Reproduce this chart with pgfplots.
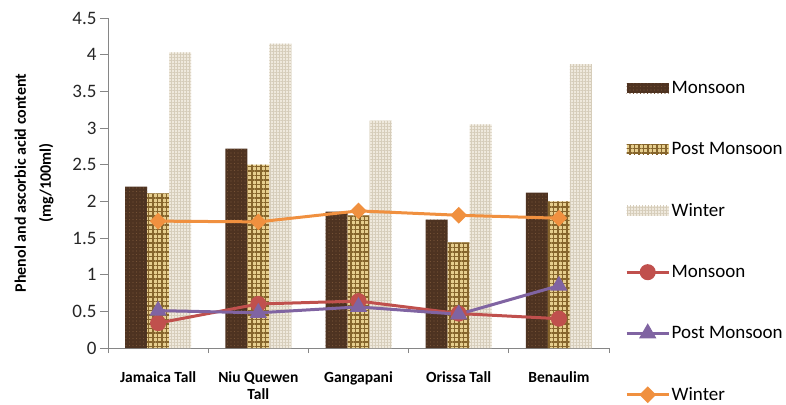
\documentclass[border=0pt]{standalone}
\usepackage{fontspec}
\setmainfont{Carlito}
\usepackage{pgfplots}
\pgfplotsset{compat=1.18}
\usetikzlibrary{patterns.meta}

\definecolor{axisgray}{HTML}{868686}
\definecolor{mbar}{HTML}{4E3321}
\definecolor{mbarlight}{HTML}{765237}
\definecolor{pbar}{HTML}{E6CE8E}
\definecolor{pbardark}{HTML}{86652C}
\definecolor{wbar}{HTML}{EFE9DD}
\definecolor{wbardark}{HTML}{D6CDBA}
\definecolor{mline}{HTML}{C0504D}
\definecolor{pline}{HTML}{8064A2}
\definecolor{wline}{HTML}{F0903F}

\pgfplotsset{
  barlegend/.style={legend image code/.code={%
      \path[##1,draw=none] (0bp,-5bp) rectangle (42bp,5bp);}},
  linelegend/.style={legend image code/.code={%
      \draw[##1,mark repeat=2,mark phase=2]
        plot coordinates {(0bp,0bp) (21bp,0bp) (42bp,0bp)};}},
}

\begin{document}
\begin{tikzpicture}
\useasboundingbox (-108bp,-57bp) rectangle (678bp,348bp);
\begin{axis}[
  at={(0,0)}, anchor=south west,
  scale only axis, width=501bp, height=330bp,
  xmin=-0.5, xmax=4.5, ymin=0, ymax=4.5,
  axis x line*=bottom, axis y line*=left,
  axis line style={draw=axisgray, line width=0.8bp},
  tick align=outside,
  xtick={0,1,2,3,4},
  xticklabels={Jamaica Tall,{Niu Quewen\\Tall},Gangapani,Orissa Tall,Benaulim},
  major x tick style={draw=none},
  minor xtick={-0.5,0.5,1.5,2.5,3.5,4.5},
  minor x tick style={draw=axisgray, line width=0.8bp},
  minor tick length=5bp,
  ytick={0,0.5,...,4.5},
  y tick style={draw=axisgray, line width=0.8bp},
  major tick length=8bp,
  /pgf/number format/assume math mode=true,
  yticklabel style={font=\fontsize{19bp}{22bp}\selectfont, text=black!85},
  xticklabel style={font=\bfseries\fontsize{15.5bp}{17bp}\selectfont, align=center, yshift=-12bp},
  ylabel={Phenol and ascorbic acid content\\(mg/100ml)},
  ylabel style={font=\bfseries\fontsize{16bp}{25bp}\selectfont, align=center, yshift=12bp},
  legend style={at={(1.032,0.815)}, anchor=north west, draw=none, fill=none,
    font=\fontsize{19bp}{22bp}\selectfont, row sep=43.4bp, inner sep=0pt,
    nodes={inner xsep=1.5bp}},
  legend cell align=left,
  clip=false,
]
% bars: phenol content per season
\addplot[ybar, bar width=22bp, bar shift=-22bp, draw=none, fill=mbar,
  postaction={pattern={Dots[distance=3.5bp, radius=0.7bp]}, pattern color=mbarlight},
  barlegend]
  coordinates {(0,2.20) (1,2.72) (2,1.86) (3,1.75) (4,2.12)};
\addlegendentry{Monsoon}
\addplot[ybar, bar width=22bp, bar shift=0bp, draw=none, fill=pbar,
  postaction={pattern={Hatch[distance=4.5bp, line width=1.5bp]}, pattern color=pbardark},
  barlegend]
  coordinates {(0,2.11) (1,2.50) (2,1.81) (3,1.44) (4,2.00)};
\addlegendentry{Post Monsoon}
\addplot[ybar, bar width=22bp, bar shift=22bp, draw=none, fill=wbar,
  postaction={pattern={Hatch[distance=3bp, line width=0.5bp]}, pattern color=wbardark},
  barlegend]
  coordinates {(0,4.03) (1,4.15) (2,3.10) (3,3.05) (4,3.87)};
\addlegendentry{Winter}
% lines: ascorbic acid content per season
\addplot[color=mline, line width=3bp, mark=*, mark size=6.5bp, linelegend]
  coordinates {(0,0.34) (1,0.60) (2,0.64) (3,0.47) (4,0.40)};
\addlegendentry{Monsoon}
\addplot[color=pline, line width=3bp, mark=triangle*, mark size=7bp, linelegend]
  coordinates {(0,0.51) (1,0.48) (2,0.56) (3,0.46) (4,0.85)};
\addlegendentry{Post Monsoon}
\addplot[color=wline, line width=3bp, mark=square*, mark size=4.4bp,
  mark options={rotate=45}, linelegend]
  coordinates {(0,1.73) (1,1.72) (2,1.87) (3,1.81) (4,1.77)};
\addlegendentry{Winter}
\end{axis}
\end{tikzpicture}
\end{document}
